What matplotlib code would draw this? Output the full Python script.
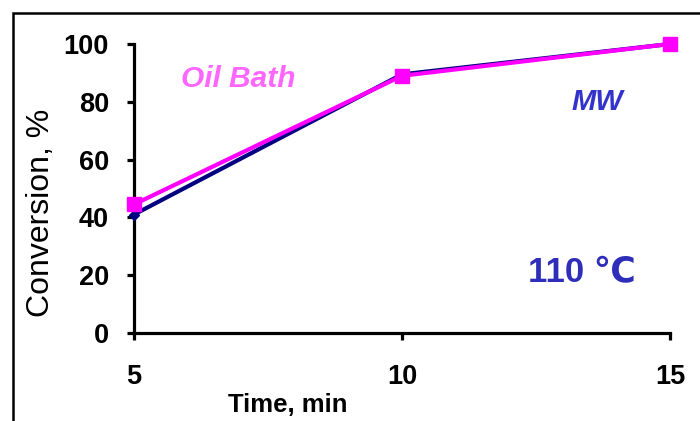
import matplotlib.pyplot as plt
from matplotlib.patches import Rectangle

time_min = [5, 10, 15]
mw_conv = [41, 89.5, 100]
oil_conv = [44.5, 89, 100]
y_ticks = [0, 20, 40, 60, 80, 100]
x_ticks = [5, 10, 15]

plt.rcParams['font.family'] = ['Liberation Sans', 'DejaVu Sans']

fig = plt.figure(figsize=(7, 4.21), dpi=100)
ax = fig.add_axes([134/700, 1-333/421, (670-134)/700, (333-44)/421])

ax.plot(time_min, mw_conv, color='#000080', lw=3, marker='D', ms=5, clip_on=False, zorder=3)
ax.plot(time_min, oil_conv, color='#FF00FF', lw=3, marker='s', ms=9.5, clip_on=False, zorder=4)

ax.set_xlim(5, 15)
ax.set_ylim(0, 100)
ax.set_xticks(x_ticks)
ax.set_yticks(y_ticks)
for s in ['top', 'right']:
    ax.spines[s].set_visible(False)
for s in ['left', 'bottom']:
    ax.spines[s].set_linewidth(2.3)
ax.tick_params(direction='out', length=5, width=2.3, labelsize=19.5)
ax.tick_params(axis='y', pad=13)
ax.tick_params(axis='x', pad=17)
for lab in ax.get_xticklabels() + ax.get_yticklabels():
    lab.set_fontweight('bold')

fig.text(41/700, 1-213/421, 'Conversion, %', fontsize=23, rotation=90,
         ha='center', va='center')
fig.text(288/700, 1-405/421, 'Time, min', fontsize=18.5, fontweight='bold',
         ha='center', va='center')

fig.text(238/700, 1-79/421, 'Oil Bath', color='#FF66FF', fontsize=21.5, fontweight='bold',
         style='italic', ha='center', va='center')
fig.text(597/700, 1-102/421, 'MW', color='#3333CC', fontsize=21, fontweight='bold',
         style='italic', ha='center', va='center')
fig.text(582/700, 1-273/421, '110 \u2103', color='#2E2EBB', fontsize=25, fontweight='bold',
         ha='center', va='center')

# frame border of the original slide
fig.patches.append(Rectangle((13/700, -0.1), 1.2, 1-13/421+0.1, transform=fig.transFigure,
                             fill=False, ec='black', lw=1.8))

fig.savefig('out.png', dpi=100)
